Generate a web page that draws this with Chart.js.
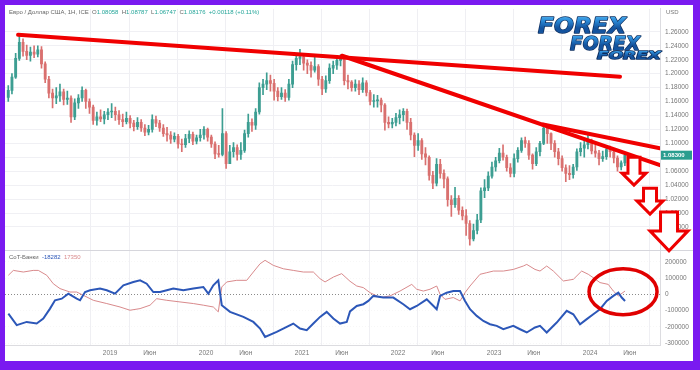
<!DOCTYPE html>
<html>
<head>
<meta charset="utf-8">
<script src="https://cdn.jsdelivr.net/npm/chart.js@4.4.1/dist/chart.umd.min.js"></script>
<style>
  html, body { margin: 0; padding: 0; background: #7a1af0; }
  canvas { display: block; }
</style>
</head>
<body>
<canvas id="c" width="700" height="370"></canvas>
<script>
// EUR/USD, 2-week candles (open = previous close)
const firstBarYear = 2017.94;
const barStepYears = 1 / 26;
const firstOpen = 1.166;
const closes = [
  1.176,1.195,1.222,1.245,1.232,1.226,1.231,1.228,1.234,1.214,
  1.192,1.172,1.165,1.168,1.174,1.163,1.165,1.138,1.158,1.165,
  1.176,1.160,1.152,1.133,1.138,1.135,1.141,1.145,1.146,1.141,
  1.134,1.131,1.136,1.129,1.124,1.130,1.122,1.116,1.120,1.134,
  1.129,1.122,1.114,1.112,1.106,1.110,1.099,1.098,1.107,1.113,
  1.103,1.108,1.112,1.120,1.109,1.099,1.085,1.084,1.114,1.071,
  1.088,1.094,1.084,1.090,1.114,1.130,1.126,1.145,1.180,1.185,
  1.190,1.186,1.175,1.167,1.172,1.166,1.185,1.213,1.222,1.224,
  1.215,1.212,1.205,1.210,1.192,1.178,1.190,1.208,1.212,1.219,
  1.222,1.190,1.188,1.180,1.185,1.177,1.187,1.173,1.160,1.161,
  1.162,1.155,1.130,1.128,1.130,1.137,1.141,1.146,1.130,1.112,
  1.097,1.104,1.085,1.080,1.054,1.043,1.070,1.057,1.049,1.019,
  1.012,1.021,1.004,0.996,0.985,0.963,0.975,0.990,1.032,1.036,
  1.053,1.066,1.075,1.086,1.080,1.065,1.057,1.078,1.090,1.104,
  1.100,1.083,1.071,1.088,1.100,1.122,1.114,1.100,1.088,1.078,
  1.065,1.057,1.055,1.066,1.088,1.093,1.098,1.104,1.089,1.086,
  1.078,1.081,1.091,1.088,1.079,1.066,1.072,1.083
];
const highs = [
  1.183,1.200,1.229,1.255,1.250,1.241,1.238,1.240,1.240,1.239,
  1.217,1.196,1.178,1.180,1.185,1.178,1.175,1.168,1.164,1.170,
  1.181,1.178,1.164,1.155,1.145,1.148,1.146,1.150,1.157,1.152,
  1.147,1.142,1.145,1.140,1.133,1.137,1.134,1.127,1.126,1.141,
  1.139,1.133,1.127,1.123,1.117,1.115,1.113,1.106,1.113,1.118,
  1.116,1.112,1.120,1.124,1.122,1.112,1.102,1.097,1.150,1.117,
  1.097,1.101,1.098,1.101,1.119,1.142,1.135,1.150,1.187,1.192,
  1.201,1.198,1.192,1.180,1.180,1.177,1.192,1.218,1.228,1.235,
  1.226,1.220,1.217,1.224,1.213,1.196,1.197,1.214,1.218,1.226,
  1.227,1.225,1.198,1.190,1.191,1.190,1.194,1.190,1.176,1.170,
  1.169,1.165,1.157,1.138,1.136,1.143,1.148,1.150,1.149,1.136,
  1.115,1.114,1.107,1.094,1.082,1.060,1.078,1.077,1.062,1.052,
  1.025,1.037,1.025,1.009,1.005,0.989,0.984,0.998,1.036,1.048,
  1.059,1.073,1.080,1.093,1.098,1.083,1.071,1.085,1.094,1.108,
  1.109,1.104,1.085,1.094,1.103,1.128,1.125,1.115,1.104,1.093,
  1.082,1.069,1.068,1.070,1.092,1.101,1.104,1.114,1.106,1.098,
  1.090,1.089,1.097,1.096,1.090,1.082,1.075,1.085
];
const lows = [
  1.160,1.171,1.193,1.219,1.225,1.220,1.218,1.223,1.224,1.208,
  1.187,1.165,1.151,1.157,1.160,1.155,1.156,1.130,1.134,1.150,
  1.160,1.150,1.143,1.127,1.126,1.131,1.128,1.134,1.137,1.133,
  1.127,1.124,1.128,1.122,1.118,1.120,1.117,1.111,1.112,1.116,
  1.124,1.117,1.110,1.103,1.100,1.102,1.093,1.088,1.094,1.101,
  1.098,1.099,1.103,1.106,1.103,1.094,1.078,1.080,1.082,1.064,
  1.074,1.080,1.076,1.077,1.087,1.109,1.117,1.120,1.142,1.170,
  1.177,1.175,1.162,1.161,1.163,1.160,1.162,1.180,1.205,1.213,
  1.205,1.200,1.195,1.202,1.183,1.170,1.173,1.186,1.200,1.206,
  1.211,1.184,1.178,1.175,1.175,1.170,1.173,1.168,1.155,1.152,
  1.152,1.145,1.119,1.122,1.122,1.125,1.128,1.132,1.120,1.105,
  1.081,1.090,1.077,1.069,1.047,1.035,1.039,1.050,1.036,1.010,
  0.995,1.008,0.998,0.990,0.968,0.954,0.960,0.970,0.986,1.022,
  1.032,1.050,1.060,1.072,1.076,1.060,1.052,1.052,1.073,1.087,
  1.094,1.077,1.063,1.068,1.082,1.098,1.100,1.091,1.080,1.069,
  1.060,1.045,1.048,1.050,1.061,1.082,1.080,1.092,1.085,1.080,
  1.069,1.074,1.077,1.080,1.072,1.060,1.062,1.068
];

// CoT net positions (decimal year / contracts)
const cotBlueYears = [
  2017.941,2018.028,2018.132,2018.236,2018.305,2018.375,2018.427,2018.497,2018.566,2018.653,
  2018.688,2018.740,2018.792,2018.896,2018.966,2019.052,2019.139,2019.243,2019.313,2019.382,
  2019.451,2019.521,2019.591,2019.659,2019.764,2019.868,2019.972,2020.024,2020.076,2020.128,
  2020.164,2020.250,2020.389,2020.493,2020.563,2020.615,2020.736,2020.841,2020.909,2020.979,
  2021.049,2021.118,2021.188,2021.257,2021.326,2021.396,2021.466,2021.500,2021.570,2021.639,
  2021.691,2021.743,2021.847,2021.951,2022.055,2022.125,2022.195,2022.299,2022.351,2022.403,
  2022.438,2022.507,2022.576,2022.646,2022.698,2022.750,2022.820,2022.889,2022.958,2023.028,
  2023.097,2023.201,2023.271,2023.341,2023.427,2023.479,2023.549,2023.601,2023.653,2023.757,
  2023.826,2023.896,2023.966,2024.034,2024.104,2024.174,2024.243,2024.295,2024.330,2024.365
];
const cotBlue = [
  -119000,-190000,-170000,-180000,-149000,-88000,-37000,-27000,4000,-27000,
  -37000,14000,25000,35000,25000,4000,55000,76000,86000,65000,
  14000,14000,25000,35000,25000,35000,45000,4000,55000,86000,
  -67000,-108000,-139000,-170000,-211000,-262000,-231000,-200000,-180000,-211000,
  -221000,-180000,-139000,-108000,-149000,-180000,-170000,-105000,-72000,-61000,
  -41000,-10000,-20000,-20000,-61000,-92000,-72000,-31000,-61000,-92000,
  -10000,10000,20000,20000,-41000,-92000,-133000,-164000,-184000,-194000,
  -215000,-194000,-215000,-235000,-204000,-194000,-235000,-204000,-174000,-102000,
  -123000,-184000,-153000,-123000,-92000,-41000,-10000,10000,-20000,-41000
];
const cotRedYears = [
  2017.941,2017.993,2018.097,2018.200,2018.253,2018.341,2018.409,2018.479,2018.583,2018.653,
  2018.722,2018.826,2018.966,2019.104,2019.208,2019.313,2019.417,2019.486,2019.591,2019.729,
  2019.868,2019.972,2020.076,2020.128,2020.164,2020.216,2020.320,2020.424,2020.493,2020.563,
  2020.615,2020.701,2020.805,2020.909,2021.014,2021.118,2021.188,2021.240,2021.326,2021.413,
  2021.500,2021.570,2021.639,2021.708,2021.813,2021.917,2022.021,2022.143,2022.195,2022.264,
  2022.333,2022.403,2022.438,2022.490,2022.576,2022.646,2022.698,2022.750,2022.854,2022.924,
  2022.993,2023.097,2023.201,2023.305,2023.341,2023.427,2023.479,2023.549,2023.618,2023.722,
  2023.826,2023.913,2023.982,2024.034,2024.104,2024.190,2024.243,2024.295,2024.365
];
const cotRed = [
  117000,147000,137000,147000,147000,117000,65000,35000,14000,14000,
  -6000,-37000,-57000,-78000,-98000,-88000,-67000,-27000,-37000,-47000,
  -57000,-67000,-78000,-108000,45000,76000,86000,86000,137000,188000,
  209000,178000,157000,147000,137000,137000,96000,76000,106000,127000,
  80000,51000,41000,10000,-20000,-10000,20000,61000,31000,20000,
  31000,51000,0,-31000,-20000,-41000,10000,51000,123000,133000,
  143000,143000,153000,174000,184000,153000,143000,174000,143000,82000,
  92000,143000,123000,102000,72000,61000,20000,-10000,20000
];

// axis ticks
const xTickYears = [2019, 2019.414, 2020, 2020.414, 2021, 2021.414, 2022, 2022.414, 2023, 2023.414, 2024, 2024.414];
const xTickLabels = ['2019', 'Июн', '2020', 'Июн', '2021', 'Июн', '2022', 'Июн', '2023', 'Июн', '2024', 'Июн'];
const priceTicks = [0.98, 1.00, 1.02, 1.04, 1.06, 1.08, 1.10, 1.12, 1.14, 1.16, 1.18, 1.20, 1.22, 1.24, 1.26];
const cotTicks = [-300000, -200000, -100000, 0, 100000, 200000];

// drawn-on annotations (trend lines, arrows, ellipse) in data units
const trendLines = [
  [[2018.042, 1.2557], [2024.3125, 1.1957]],
  [[2021.417, 1.2257], [2024.729, 1.0686]],
  [[2023.51, 1.1271], [2024.729, 1.0929]]
];
const arrows = [
  { year: 2024.458, top: 1.080, bottom: 1.040, head: 24, shaft: 12, headH: 12 },
  { year: 2024.625, top: 1.0357, bottom: 0.9986, head: 26, shaft: 13, headH: 13 },
  { year: 2024.823, top: 1.0014, bottom: 0.9457, head: 38, shaft: 17, headH: 20 }
];
const ellipse = { year: 2024.344, value: 16000, rx: 34, ry: 23 };

const titleParts = [
  ['Евро / Доллар США, 1Н, ICE  ', '#666'], ['O', '#666'], ['1.08058  ', '#26a69a'],
  ['H', '#666'], ['1.08787  ', '#26a69a'], ['L', '#666'], ['1.06747  ', '#26a69a'],
  ['C', '#666'], ['1.08176  ', '#26a69a'], ['+0.00118 (+0.11%)', '#26a69a']
];
const cotLabelParts = [['CoT-Банки  ', '#666'], ['-18282  ', '#2c57b8'], ['17350', '#d98a8c']];

const bars = closes.map((c, i) => {
  const o = i === 0 ? firstOpen : closes[i - 1];
  return { t: firstBarYear + i * barStepYears, o: o, c: c,
           h: Math.max(highs[i], o, c), l: Math.min(lows[i], o, c) };
});
const upColor = '#3d9e92';
const downColor = '#d9706f';
const barColors = bars.map(b => b.c >= b.o ? upColor : downColor);

const axisFont = { family: '"Liberation Sans", Arial, sans-serif', size: 6.5 };

function drawParts(c, parts, x, y) {
  c.font = '6px "Liberation Sans", Arial, sans-serif';
  c.textBaseline = 'middle';
  c.textAlign = 'left';
  for (const [txt, col] of parts) {
    c.fillStyle = col;
    c.fillText(txt, x, y);
    x += c.measureText(txt).width;
  }
}

function drawLogo(c, x, base, size, width) {
  c.save();
  c.font = 'italic bold ' + size + 'px "DejaVu Sans", sans-serif';
  const w = c.measureText('FOREX').width;
  c.translate(x, base);
  c.scale(width / w, 1);
  const g = c.createLinearGradient(0, -size * 0.75, 0, 0);
  g.addColorStop(0, '#6cc8f5');
  g.addColorStop(0.5, '#2d8fdc');
  g.addColorStop(1, '#14539e');
  c.lineWidth = 1.4;
  c.strokeStyle = '#0c2d5e';
  c.lineJoin = 'round';
  c.strokeText('FOREX', 0, 0);
  c.fillStyle = g;
  c.fillText('FOREX', 0, 0);
  c.restore();
}

const decor = {
  id: 'decor',
  beforeDraw(chart) {
    const c = chart.ctx;
    c.save();
    c.fillStyle = '#7a1af0';
    c.fillRect(0, 0, 700, 370);
    c.fillStyle = '#ffffff';
    c.fillRect(5, 5, 688, 356);
    c.restore();
  },
  afterDraw(chart) {
    const c = chart.ctx;
    const xs = chart.scales.x, ps = chart.scales.price, cs = chart.scales.cot;
    c.save();
    // panel separator
    c.strokeStyle = '#d6d6dc';
    c.lineWidth = 1;
    c.beginPath();
    c.moveTo(5, Math.round(ps.bottom) + 0.5);
    c.lineTo(693, Math.round(ps.bottom) + 0.5);
    c.stroke();
    // texts
    drawParts(c, titleParts, 9, 12);
    drawParts(c, cotLabelParts, 9, ps.bottom + 7);
    c.fillStyle = '#777';
    c.font = '6px "Liberation Sans", Arial, sans-serif';
    c.fillText('USD', 666, 12);
    // last price tag
    const last = bars[bars.length - 1];
    const py = ps.getPixelForValue(last.c);
    c.fillStyle = '#2a9d8f';
    c.fillRect(661, py - 4.5, 31, 9);
    c.fillStyle = '#fff';
    c.font = 'bold 6px "Liberation Sans", Arial, sans-serif';
    c.textBaseline = 'middle';
    c.fillText(last.c.toFixed(5), 663, py);
    // logo
    drawLogo(c, 538, 28, 21, 88);
    drawLogo(c, 570, 45, 19, 70);
    drawLogo(c, 597, 56, 11, 64);
    // arrows
    for (const a of arrows) {
      const cx = xs.getPixelForValue(a.year);
      const t = ps.getPixelForValue(a.top);
      const b = ps.getPixelForValue(a.bottom);
      const hb = b - a.headH;
      c.beginPath();
      c.moveTo(cx - a.shaft / 2, t);
      c.lineTo(cx + a.shaft / 2, t);
      c.lineTo(cx + a.shaft / 2, hb);
      c.lineTo(cx + a.head / 2, hb);
      c.lineTo(cx, b);
      c.lineTo(cx - a.head / 2, hb);
      c.lineTo(cx - a.shaft / 2, hb);
      c.closePath();
      c.fillStyle = '#ffffff';
      c.fill();
      c.lineWidth = 3;
      c.lineJoin = 'miter';
      c.strokeStyle = '#ee0000';
      c.stroke();
    }
    // ellipse
    c.beginPath();
    c.ellipse(xs.getPixelForValue(ellipse.year), cs.getPixelForValue(ellipse.value), ellipse.rx, ellipse.ry, 0, 0, Math.PI * 2);
    c.lineWidth = 3.5;
    c.strokeStyle = '#e00000';
    c.stroke();
    c.restore();
  }
};

const trendSets = trendLines.map(seg => ({
  type: 'line',
  data: seg.map(p => ({ x: p[0], y: p[1] })),
  yAxisID: 'price',
  borderColor: '#f00000',
  borderWidth: 4,
  borderCapStyle: 'round',
  pointRadius: 0,
  order: 0
}));

new Chart(document.getElementById('c'), {
  type: 'bar',
  data: {
    datasets: [
      {
        type: 'bar',
        data: bars.map(b => ({ x: b.t, y: [b.l, b.h] })),
        yAxisID: 'price',
        backgroundColor: barColors,
        barThickness: 1,
        grouped: false,
        order: 6
      },
      {
        type: 'bar',
        data: bars.map(b => ({ x: b.t, y: [b.o, b.c] })),
        yAxisID: 'price',
        backgroundColor: barColors,
        barThickness: 2.2,
        minBarLength: 1,
        grouped: false,
        order: 5
      },
      {
        type: 'line',
        data: cotRedYears.map((x, i) => ({ x: x, y: cotRed[i] })),
        yAxisID: 'cot',
        borderColor: '#d98a8c',
        borderWidth: 1,
        pointRadius: 0,
        order: 3
      },
      {
        type: 'line',
        data: cotBlueYears.map((x, i) => ({ x: x, y: cotBlue[i] })),
        yAxisID: 'cot',
        borderColor: '#2c57b8',
        borderWidth: 2,
        pointRadius: 0,
        order: 2
      },
      ...trendSets
    ]
  },
  options: {
    responsive: false,
    animation: false,
    devicePixelRatio: 1,
    layout: { padding: { top: 8, left: 5, right: 0, bottom: 0 } },
    plugins: { legend: { display: false }, tooltip: { enabled: false } },
    scales: {
      x: {
        type: 'linear',
        min: 2017.906,
        max: 2024.729,
        offset: false,
        afterBuildTicks: s => { s.ticks = xTickYears.map(v => ({ value: v })); },
        afterFit: s => { s.height = 25; },
        ticks: {
          callback: (v, i) => xTickLabels[i],
          autoSkip: false, maxRotation: 0, font: axisFont, color: '#777', padding: 4
        },
        grid: { color: '#efeff3', drawTicks: false },
        border: { color: '#dcdce0' }
      },
      price: {
        type: 'linear',
        position: 'right',
        stack: 'panes',
        stackWeight: 242,
        min: 0.9466,
        max: 1.2929,
        afterBuildTicks: s => { s.ticks = priceTicks.map(v => ({ value: v })); },
        afterFit: s => { s.width = 40; },
        ticks: { callback: v => v.toFixed(5), autoSkip: false, font: axisFont, color: '#777', padding: 5 },
        grid: { color: '#f0f0f4', drawTicks: false },
        border: { color: '#dcdce0' }
      },
      cot: {
        type: 'linear',
        position: 'right',
        stack: 'panes',
        stackWeight: 95,
        min: -312000,
        max: 271000,
        afterBuildTicks: s => { s.ticks = cotTicks.map(v => ({ value: v })); },
        afterFit: s => { s.width = 40; },
        ticks: { callback: v => String(v), autoSkip: false, font: axisFont, color: '#777', padding: 5 },
        grid: {
          color: ctx => ctx.tick && ctx.tick.value === 0 ? '#8a8a8a' : 'rgba(0,0,0,0.03)',
          drawTicks: false
        },
        border: { color: '#dcdce0', dash: [1, 2] }
      }
    }
  },
  plugins: [decor]
});
</script>
</body>
</html>
